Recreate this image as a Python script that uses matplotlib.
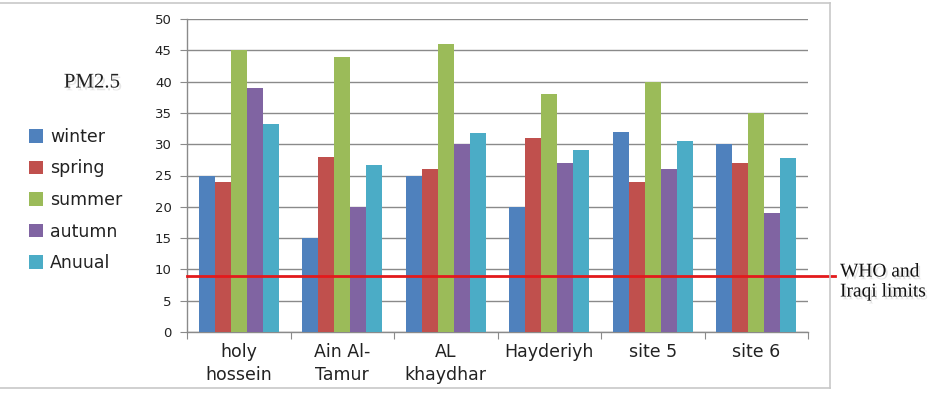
import matplotlib
matplotlib.use("Agg")
import matplotlib.pyplot as plt
import matplotlib.patheffects as pe
from matplotlib.lines import Line2D
import numpy as np

sites = ["holy\nhossein", "Ain Al-\nTamur", "AL\nkhaydhar", "Hayderiyh", "site 5", "site 6"]
series_names = ["winter", "spring", "summer", "autumn", "Anuual"]
winter = [25, 15, 25, 20, 32, 30]
spring = [24, 28, 26, 31, 24, 27]
summer = [45, 44, 46, 38, 40, 35]
autumn = [39, 20, 30, 27, 26, 19]
annual = [33.25, 26.75, 31.75, 29, 30.5, 27.75]
who_limit = 9
y_ticks = [0, 5, 10, 15, 20, 25, 30, 35, 40, 45, 50]

colors = ["#4F81BD", "#C0504D", "#9BBB59", "#8064A2", "#4BACC6"]
data = [winter, spring, summer, autumn, annual]

fig = plt.figure(figsize=(9.52, 4.0), dpi=100)
ax = fig.add_axes([187/952, 1-332/400, (808-187)/952, (332-19)/400])

x = np.arange(len(sites))
bw = 0.155
for i, (vals, c, name) in enumerate(zip(data, colors, series_names)):
    ax.bar(x + (i-2)*bw, vals, width=bw, color=c, label=name, zorder=3)

ax.set_xlim(-0.5, len(sites)-0.5)
ax.set_ylim(0, 50)
ax.set_yticks(y_ticks)
ax.yaxis.grid(True, color="#8a8a8a", lw=1.0, zorder=0)
ax.set_axisbelow(True)

ax.set_xticks(np.arange(-0.5, len(sites), 1.0))
ax.set_xticklabels([])
ax.set_xticks(x, minor=True)
ax.set_xticklabels(sites, minor=True, fontsize=12.5, color="#222222", linespacing=1.35)
ax.tick_params(axis="x", which="minor", length=0, pad=8)
ax.tick_params(axis="x", which="major", length=5, direction="out", color="#8a8a8a")
ax.tick_params(axis="y", length=5, direction="out", color="#8a8a8a", labelsize=9.5,
               labelcolor="#222222", pad=6)
for s in ["top", "right"]:
    ax.spines[s].set_visible(False)
for s in ["left", "bottom"]:
    ax.spines[s].set_color("#8a8a8a")
    ax.spines[s].set_linewidth(1.0)

ax.axhline(who_limit, xmin=0, xmax=1.043, color="#E31A1C", lw=2, zorder=4, clip_on=False)

leg = fig.legend(loc="center left", bbox_to_anchor=(0.014, 0.5), frameon=False,
                 fontsize=12.5, handlelength=0.8, handleheight=0.8, handletextpad=0.4,
                 labelspacing=0.78)
for t in leg.get_texts():
    t.set_color("#222222")

shadow = [pe.SimplePatchShadow(offset=(1.5, -2), shadow_rgbFace="gray", alpha=0.2), pe.Normal()]
fig.text(92/952, 1-83/400, "PM2.5", family="Liberation Serif", fontsize=15,
         ha="center", va="center", color="#222222", path_effects=shadow)
fig.text(840/952, 1-272/400, "WHO and", family="Liberation Serif", fontsize=14,
         ha="left", va="center", color="#111111", path_effects=shadow)
fig.text(840/952, 1-292/400, "Iraqi limits", family="Liberation Serif", fontsize=14,
         ha="left", va="center", color="#111111", path_effects=shadow)

frame_c = "#c8c8c8"
fig.add_artist(Line2D([0, 830/952], [1-3/400, 1-3/400], color=frame_c, lw=1.2, transform=fig.transFigure))
fig.add_artist(Line2D([0, 830/952], [1-388/400, 1-388/400], color=frame_c, lw=1.2, transform=fig.transFigure))
fig.add_artist(Line2D([830/952, 830/952], [1-3/400, 1-388/400], color=frame_c, lw=1.2, transform=fig.transFigure))

fig.savefig("out.png", dpi=100)
